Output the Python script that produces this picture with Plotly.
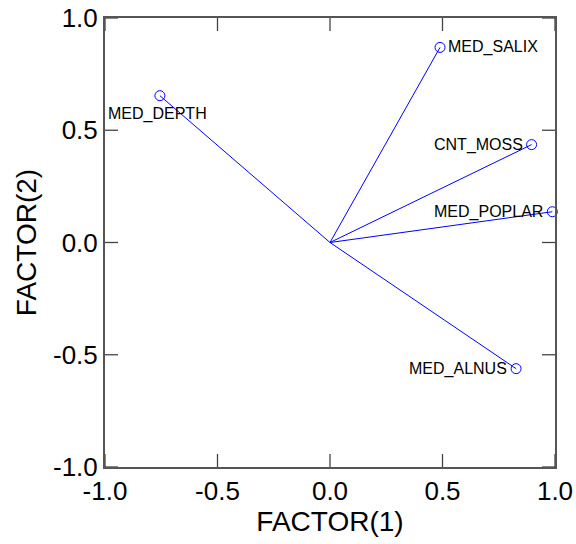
import plotly.graph_objects as go

names = ["MED_DEPTH", "MED_SALIX", "CNT_MOSS", "MED_POPLAR", "MED_ALNUS"]
factor1 = [-0.756, 0.489, 0.896, 0.988, 0.827]
factor2 = [0.654, 0.869, 0.436, 0.137, -0.562]
tick_vals = [-1.0, -0.5, 0.0, 0.5, 1.0]
tick_text = ["-1.0", "-0.5", "0.0", "0.5", "1.0"]

# label placement (style)
label_anchor = ["left", "left", "right", "right", "right"]
label_xshift = [-54, 6, -7, -7, -7]
label_yshift = [-18, 0, 0, 0, 0]

blue = "#0000ff"
tick_color = "#444444"
tick_len = 13

fig = go.Figure()
lx, ly = [], []
for a, b in zip(factor1, factor2):
    lx += [0, a, None]
    ly += [0, b, None]
fig.add_trace(go.Scatter(x=lx, y=ly, mode="lines", line=dict(color=blue, width=1),
                         hoverinfo="skip", showlegend=False))
fig.add_trace(go.Scatter(x=factor1, y=factor2, mode="markers", text=names,
                         marker=dict(symbol="circle-open", size=10, color=blue,
                                     line=dict(width=1, color=blue)),
                         showlegend=False, cliponaxis=False))

for n, a, b, anc, xs, ys in zip(names, factor1, factor2, label_anchor, label_xshift, label_yshift):
    fig.add_annotation(x=a, y=b, text=n, showarrow=False, xanchor=anc, yanchor="middle",
                       xshift=xs, yshift=ys,
                       font=dict(family="Liberation Sans, Arial", size=16, color="black"))

# inside ticks on all four sides (drawn as pixel-sized shapes anchored at tick values)
for v in tick_vals:
    for anchor, sign in ((0, 1), (1, -1)):
        fig.add_shape(type="line", xref="x", x0=v, x1=v,
                      yref="paper", ysizemode="pixel", yanchor=anchor, y0=0, y1=sign * tick_len,
                      line=dict(color=tick_color, width=1.3), layer="above")
        fig.add_shape(type="line", yref="y", y0=v, y1=v,
                      xref="paper", xsizemode="pixel", xanchor=anchor, x0=0, x1=sign * tick_len,
                      line=dict(color=tick_color, width=1.3), layer="above")

axis_common = dict(range=[-1, 1], tickvals=tick_vals, ticktext=tick_text,
                   ticks="", showline=True, linecolor="#555555", linewidth=2, mirror=True,
                   showgrid=False, zeroline=False, automargin=False,
                   tickfont=dict(family="Liberation Sans, Arial", size=26, color="black"),
                   title_font=dict(family="Liberation Sans, Arial", size=28, color="black"))

fig.update_xaxes(**axis_common, title_text="FACTOR(1)", title_standoff=4)
fig.update_yaxes(**axis_common, title_text="FACTOR(2)", title_standoff=8)

fig.update_layout(template="none", width=576, height=544,
                  margin=dict(l=105, r=21, t=18, b=77, autoexpand=False),
                  plot_bgcolor="white", paper_bgcolor="white")

fig.write_html("out.html", config={"displayModeBar": False},
               post_script="document.body.style.margin='0';document.body.style.overflow='hidden';")
